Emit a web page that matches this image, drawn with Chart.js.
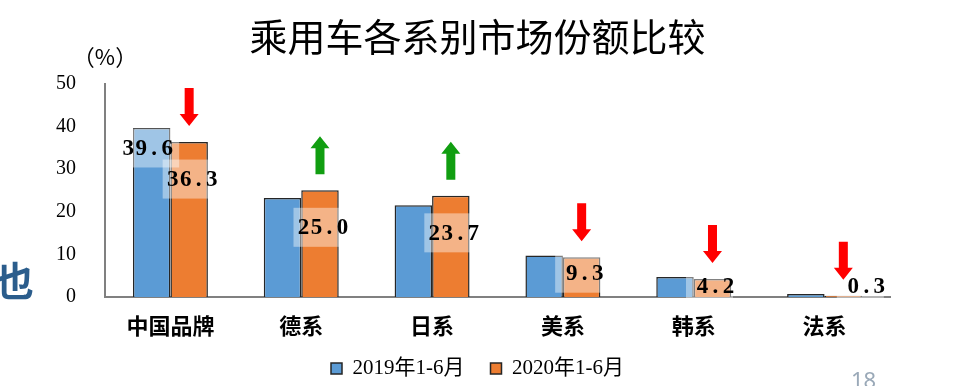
<!DOCTYPE html>
<html>
<head>
<meta charset="utf-8">
<script src="https://cdn.jsdelivr.net/npm/chart.js@4.4.0/dist/chart.umd.min.js"></script>
<style>
  html, body { margin: 0; padding: 0; background: #fff; overflow: hidden; }
  #wrap { position: relative; width: 955px; height: 386px; }
  #c { position: absolute; left: 0; top: 0; }
  .side { position: absolute; left: -6px; top: 250px; font: bold 40px "Noto Sans CJK SC"; color: #2b5d8c; }
  .page { position: absolute; left: 851px; top: 364px; font: 22px "Noto Sans"; color: #9aa9b8; }
</style>
</head>
<body>
<div id="wrap">
  <canvas id="c" width="955" height="386"></canvas>
  <div class="side">也</div>
  <div class="page">18</div>
</div>
<script>
// 各系别
const categories = ["中国品牌", "德系", "日系", "美系", "韩系", "法系"];
const seriesNames = ["2019年1-6月", "2020年1-6月"];
// 市场份额 (%)
const share2019 = [39.6, 23.2, 21.5, 9.7, 4.7, 0.7];
const share2020 = [36.3, 25.0, 23.7, 9.3, 4.2, 0.3];
// 哪些2019柱子标数值
const label2019 = [true, false, false, false, false, false];
// 变化方向
const trend = ["down", "up", "up", "down", "down", "down"];
const yTicks = [0, 10, 20, 30, 40, 50];

const blue = "#5b9bd5";
const orange = "#ed7d31";

// 刻度文字画在轴框外面，不裁剪
let noClip = function (scale) {
  scale._computeLabelArea = function () { return undefined; };
};

// 数值标签 + 升降箭头
const markPlugin = {
  id: "marks",
  afterDatasetsDraw(chart) {
    const ctx = chart.ctx;
    const base = chart.scales.y.getPixelForValue(0);
    const m19 = chart.getDatasetMeta(0).data;
    const m20 = chart.getDatasetMeta(1).data;

    let drawLabel = (txt, cx, cy, boxCx) => {
      ctx.save();
      ctx.fillStyle = "rgba(255,255,255,0.42)";
      ctx.fillRect(boxCx - 23.5, cy - 19.5, 47, 39);
      ctx.fillStyle = "#000";
      ctx.font = "bold 23px 'Liberation Serif'";
      ctx.textAlign = "center";
      ctx.textBaseline = "middle";
      // 等宽排字
      let pitch = 13;
      let x0 = cx - (txt.length * pitch) / 2 + pitch / 2;
      for (let k = 0; k < txt.length; k++) {
        ctx.fillText(txt[k], x0 + k * pitch, cy + 1);
      }
      ctx.restore();
    };

    let drawArrow = (cx, bottom, dir) => {
      let len = 38, shaft = 9, head = 19, headH = 12;
      let top = bottom - len;
      ctx.save();
      ctx.fillStyle = dir == "up" ? "#119e11" : "#ff0000";
      ctx.beginPath();
      if (dir == "up") {
        ctx.moveTo(cx, top);
        ctx.lineTo(cx + head / 2, top + headH);
        ctx.lineTo(cx + shaft / 2, top + headH);
        ctx.lineTo(cx + shaft / 2, bottom);
        ctx.lineTo(cx - shaft / 2, bottom);
        ctx.lineTo(cx - shaft / 2, top + headH);
        ctx.lineTo(cx - head / 2, top + headH);
      } else {
        ctx.moveTo(cx, bottom);
        ctx.lineTo(cx + head / 2, bottom - headH);
        ctx.lineTo(cx + shaft / 2, bottom - headH);
        ctx.lineTo(cx + shaft / 2, top);
        ctx.lineTo(cx - shaft / 2, top);
        ctx.lineTo(cx - shaft / 2, bottom - headH);
        ctx.lineTo(cx - head / 2, bottom - headH);
      }
      ctx.closePath();
      ctx.fill();
      ctx.restore();
    };

    for (let i = 0; i < categories.length; i++) {
      let b = m20[i];
      let h = base - b.y;
      let cy = Math.min(b.y + Math.min(0.4 * h, 37), base - 11);
      let cx = h < 4 ? b.x + 23 : b.x + 3;
      drawLabel(share2020[i].toFixed(1), cx, cy, cx - 6);

      if (label2019[i]) {
        let a = m19[i];
        drawLabel(share2019[i].toFixed(1), a.x - 4, a.y + 20, a.x + 4);
      }

      drawArrow(b.x, b.y - 16, trend[i]);
    }

    // （%）
    ctx.save();
    ctx.fillStyle = "#000";
    ctx.font = "22px 'Noto Sans CJK SC'";
    ctx.textAlign = "center";
    ctx.textBaseline = "middle";
    ctx.fillText("（%）", chart.chartArea.left, 57);
    ctx.restore();
  }
};

let chartCtx = document.getElementById("c").getContext("2d");
new Chart(chartCtx, {
  type: "bar",
  data: {
    labels: categories,
    datasets: [
      {
        label: seriesNames[0],
        data: share2019,
        backgroundColor: blue,
        borderColor: "#262626",
        borderWidth: 1.5
      },
      {
        label: seriesNames[1],
        data: share2020,
        backgroundColor: orange,
        borderColor: "#262626",
        borderWidth: 1.5
      }
    ]
  },
  plugins: [markPlugin],
  options: {
    responsive: false,
    animation: false,
    layout: {
      padding: { left: 65, right: 65, top: 0, bottom: -3 }
    },
    datasets: {
      bar: { barPercentage: 1.0, categoryPercentage: 0.573 }
    },
    plugins: {
      title: {
        display: true,
        text: "乘用车各系别市场份额比较",
        color: "#000",
        font: { family: "'Noto Sans CJK SC'", size: 38, weight: "normal" },
        padding: { top: 14, bottom: 24 }
      },
      legend: {
        position: "bottom",
        labels: {
          color: "#000",
          font: { family: "'Liberation Serif', 'Noto Sans CJK SC'", size: 21 },
          boxWidth: 11,
          boxHeight: 11,
          padding: 26
        }
      },
      tooltip: { enabled: false }
    },
    scales: {
      x: {
        grid: { display: false, drawTicks: false },
        border: { display: true, color: "#808080", width: 2 },
        ticks: {
          color: "#000",
          padding: 15,
          font: { family: "'Noto Sans CJK SC'", size: 22, weight: "bold" }
        },
        afterFit: function (scale) {
          scale.height = 35;
          noClip(scale);
        }
      },
      y: {
        min: 0,
        max: 50,
        afterBuildTicks: function (scale) {
          scale.ticks = yTicks.map(v => ({ value: v }));
        },
        grid: { display: false, drawTicks: false },
        border: { display: true, color: "#808080", width: 2 },
        ticks: {
          color: "#000",
          padding: 29,
          font: { family: "'Liberation Serif'", size: 20 }
        },
        afterFit: function (scale) {
          scale.width = 40;
          noClip(scale);
        }
      }
    }
  }
});
</script>
</body>
</html>
